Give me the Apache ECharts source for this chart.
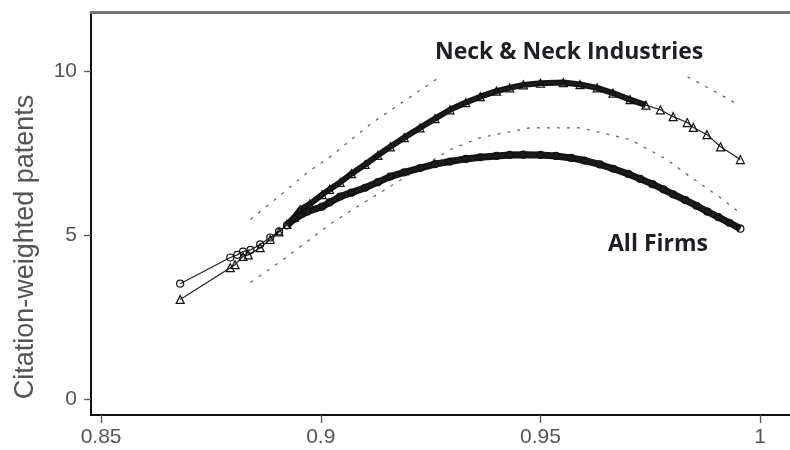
<!DOCTYPE html>
<html><head><meta charset="utf-8">
<script src="https://cdn.jsdelivr.net/npm/echarts@6/dist/echarts.min.js"></script>
<style>html,body{margin:0;padding:0;background:#fff}#c{width:790px;height:450px}</style>
</head><body><div id="c"></div>
<script>
// Tick labels
const xTicks = [0.85, 0.9, 0.95, 1];
const yTicks = [0, 5, 10];

// Neck & Neck Industries (triangles)
const nnX = [0.868, 0.8794, 0.8805, 0.8823, 0.8835, 0.8862, 0.8885, 0.8905, 0.8923, 0.894, 0.8953, 0.8975, 0.9003, 0.902, 0.9044, 0.907, 0.9101, 0.913, 0.9158, 0.919, 0.9226, 0.926, 0.9294, 0.933, 0.9363, 0.940, 0.943, 0.9461, 0.950, 0.9552, 0.959, 0.9629, 0.9665, 0.9704, 0.974, 0.9773, 0.9802, 0.9834, 0.9848, 0.9879, 0.991, 0.9955];
const nnY = [3.04, 4.01, 4.10, 4.35, 4.40, 4.62, 4.87, 5.10, 5.33, 5.55, 5.78, 5.95, 6.24, 6.40, 6.61, 6.88, 7.16, 7.44, 7.70, 7.98, 8.28, 8.56, 8.83, 9.05, 9.23, 9.40, 9.50, 9.59, 9.64, 9.66, 9.60, 9.50, 9.34, 9.14, 8.97, 8.83, 8.62, 8.44, 8.29, 8.07, 7.70, 7.31];

// All Firms (circles)
const afX = [0.868, 0.8794, 0.881, 0.8823, 0.884, 0.8862, 0.8885, 0.8905, 0.8923, 0.894, 0.8969, 0.9003, 0.902, 0.9044, 0.907, 0.9101, 0.913, 0.9158, 0.919, 0.9226, 0.926, 0.9294, 0.933, 0.9363, 0.940, 0.943, 0.9461, 0.950, 0.9535, 0.957, 0.960, 0.9635, 0.9666, 0.970, 0.9727, 0.9755, 0.978, 0.9802, 0.983, 0.9855, 0.988, 0.9905, 0.993, 0.9955];
const afY = [3.52, 4.32, 4.40, 4.50, 4.55, 4.72, 4.93, 5.12, 5.30, 5.50, 5.72, 5.87, 6.00, 6.18, 6.30, 6.45, 6.62, 6.79, 6.92, 7.05, 7.17, 7.25, 7.33, 7.38, 7.42, 7.45, 7.46, 7.45, 7.42, 7.36, 7.28, 7.16, 7.03, 6.87, 6.72, 6.56, 6.40, 6.25, 6.07, 5.90, 5.72, 5.55, 5.38, 5.20];

// Confidence bands (Neck & Neck), dotted
const upX = [0.884, 0.8915, 0.8969, 0.9022, 0.9074, 0.912, 0.9188, 0.9272, 0.955, 0.9835, 0.991, 0.995];
const upY = [5.48, 6.30, 6.91, 7.40, 7.97, 8.46, 9.08, 9.84, null, 9.84, 9.29, 8.98];
const loX = [0.884, 0.8915, 0.8969, 0.9026, 0.9083, 0.9294, 0.9363, 0.9477, 0.959, 0.9704, 0.9788, 0.9834, 0.991, 0.995];
const loY = [3.56, 4.26, 4.81, 5.38, 5.87, 7.61, 7.98, 8.28, 8.28, 7.92, 7.31, 6.85, 6.14, 5.72];

const labelNN = 'Neck & Neck Industries';
const labelAF = 'All Firms';
const yTitle = 'Citation-weighted patents';

const pairs = (xs, ys) => xs.map((x, i) => [x, ys[i] == null ? '-' : ys[i]]);
const nnData = pairs(nnX, nnY);
const afData = pairs(afX, afY);
const nnDense = nnData.filter(d => d[0] >= 0.892 && d[0] <= 0.975);
const afDense = afData.filter(d => d[0] >= 0.892);

const chart = echarts.init(document.getElementById('c'), null, {renderer: 'canvas'});
const tickFont = {fontSize: 21, color: '#555', fontFamily: 'Liberation Sans, Arial, sans-serif'};
const hollow = {color: 'rgba(0,0,0,0)', borderColor: '#111', borderWidth: 1.2};

chart.setOption({
  animation: false,
  backgroundColor: '#fff',
  grid: {left: 91, top: 12.5, right: 0, bottom: 35, containLabel: false},
  xAxis: [{
    type: 'value', min: 0.8477, max: 1.0068, position: 'bottom',
    axisLine: {show: true, onZero: false, lineStyle: {color: '#111', width: 2}},
    axisTick: {show: true, customValues: xTicks, length: 8, lineStyle: {color: '#555', width: 1.3}},
    axisLabel: Object.assign({customValues: xTicks, margin: 12, formatter: v => String(v)}, tickFont),
    splitLine: {show: false}
  }, {
    type: 'value', min: 0.8477, max: 1.0068, position: 'top',
    axisLine: {show: true, onZero: false, lineStyle: {color: '#777', width: 3}},
    axisTick: {show: false}, axisLabel: {show: false}, splitLine: {show: false}
  }],
  yAxis: {
    type: 'value', min: -0.489, max: 11.8,
    axisLine: {show: true, onZero: false, lineStyle: {color: '#111', width: 2}},
    axisTick: {show: true, customValues: yTicks, length: 7, lineStyle: {color: '#555', width: 1.3}},
    axisLabel: Object.assign({customValues: yTicks, margin: 14}, tickFont),
    splitLine: {show: false}
  },
  series: [
    {type: 'line', data: pairs(upX, upY), showSymbol: false, connectNulls: false, silent: true,
     lineStyle: {color: '#666', width: 1.3, type: [3, 7]}, z: 1},
    {type: 'line', data: pairs(loX, loY), showSymbol: false, silent: true,
     lineStyle: {color: '#666', width: 1.3, type: [3, 7]}, z: 1},
    {type: 'line', data: nnDense, showSymbol: false, silent: true,
     lineStyle: {color: '#151515', width: 6}, z: 2},
    {type: 'line', data: afDense, showSymbol: false, silent: true,
     lineStyle: {color: '#151515', width: 7}, z: 2},
    {type: 'line', data: nnData, symbol: 'triangle', symbolSize: 8, showAllSymbol: true,
     itemStyle: hollow, lineStyle: {color: '#222', width: 1.2}, z: 3},
    {type: 'line', data: afData, symbol: 'circle', symbolSize: 7, showAllSymbol: true,
     itemStyle: hollow, lineStyle: {color: '#222', width: 1.2}, z: 3}
  ],
  graphic: [
    {type: 'text', x: 435, y: 52, style: {text: labelNN, fontSize: 23, fontWeight: 'bold',
      fontFamily: 'Open Sans, sans-serif', fill: '#1e1e24', verticalAlign: 'middle', align: 'left'}},
    {type: 'text', x: 608, y: 244, style: {text: labelAF, fontSize: 23, fontWeight: 'bold',
      fontFamily: 'Open Sans, sans-serif', fill: '#1e1e24', verticalAlign: 'middle', align: 'left'}},
    {type: 'text', x: 26, y: 247, rotation: Math.PI / 2, style: {text: yTitle, fontSize: 27,
      fontFamily: 'Liberation Sans, Arial, sans-serif', fill: '#555', verticalAlign: 'middle', align: 'center'}}
  ]
});
</script>
</body></html>
